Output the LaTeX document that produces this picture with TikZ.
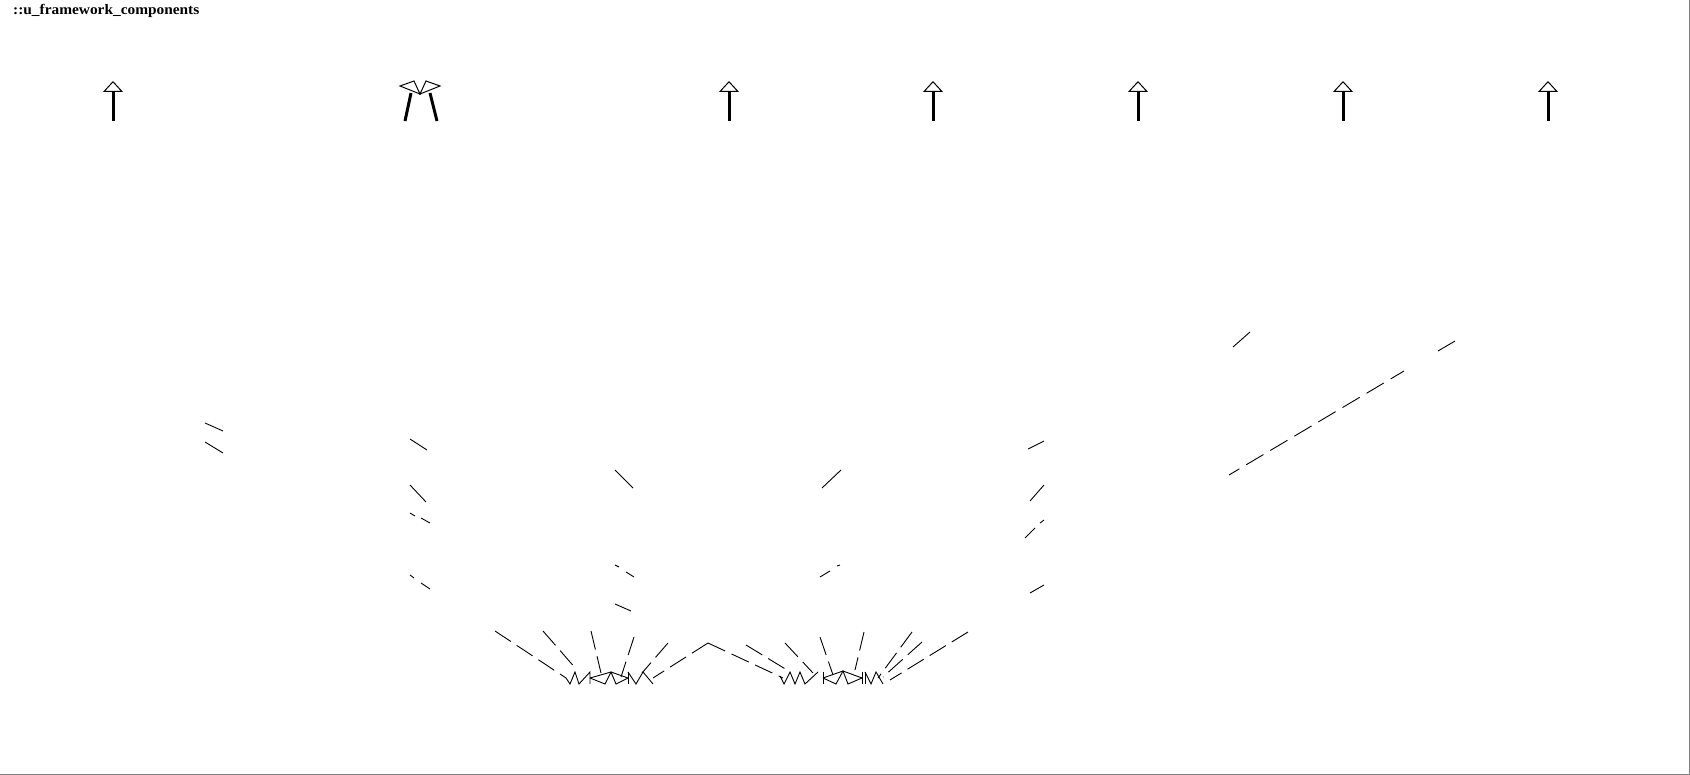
\documentclass[tikz,border=0pt]{standalone}
\usepackage{fontspec}
\setmainfont{Liberation Serif}
\newfontfamily\titlefont[FakeStretch=1.06]{Liberation Serif}
\usetikzlibrary{arrows.meta}
\begin{document}
\begin{tikzpicture}[x=1pt,y=-1pt,
  frag/.style={line width=0.9pt},
  dsh/.style={line width=0.9pt, dash pattern=on 19pt off 7pt},
  ldsh/.style={line width=0.9pt, dash pattern=on 20pt off 8pt},
  shaft/.style={line width=3pt, -{Triangle[open,length=11pt,width=20pt,line width=1pt,fill=white]}},
  head/.style={line width=1pt, fill=white, line join=miter},
  zig/.style={line width=0.9pt, line join=miter},
  title/.style={font=\titlefont\bfseries\fontsize{14.5}{16}\selectfont, anchor=base west, inner sep=0pt}]
\useasboundingbox (0,0) rectangle (1690,775);
\draw[gray, line width=1.2pt] (0,774.4) -- (1689.4,774.4) -- (1689.4,0);
\node[title] (title) at (13,14.5) {::u\_framework\_components};

% generalization arrows at the top
\foreach \n/\x in {1/113,2/729,3/933,4/1138,5/1343,6/1548}{
  \coordinate (g\n s) at (\x,121);
  \coordinate (g\n t) at (\x,81);
  \draw[shaft] (g\n s) -- (g\n t);
}
% converging pair
\coordinate (p0) at (420,94);
\draw[line width=3pt] (405,121) -- (411,93);
\draw[line width=3pt] (437,121) -- (430,93);
\draw[head] (400,86) -- (414,81) -- (p0) -- cycle;
\draw[head] (440,86) -- (426,81) -- (p0) -- cycle;

% left fragments
\draw[frag] (205,423) -- (223,431);
\draw[frag] (205,442) -- (223,453);
\draw[frag] (410,439) -- (427,450);
\draw[frag] (410,485) -- (426,502);
\draw[frag] (410,513) -- (415,516) (421,518) -- (430,523);
\draw[frag] (410,575) -- (414,578) (421,583) -- (430,589);

% middle fragments
\draw[frag] (615,470) -- (633,488);
\draw[frag] (822,488) -- (841,470);
\draw[frag] (615,565) -- (619,567) (626,572) -- (634,577);
\draw[frag] (615,604) -- (631,611);
\draw[frag] (820,577) -- (830,571) (837,566) -- (840,565);

% right fragments
\draw[frag] (1028,449) -- (1044,441);
\draw[frag] (1030,501) -- (1044,485);
\draw[frag] (1025,538) -- (1035,528) (1040,523) -- (1044,520);
\draw[frag] (1030,593) -- (1044,585);
\draw[frag] (1233,347) -- (1250,332);
\draw[frag] (1438,351) -- (1455,341);
\draw[ldsh, dash phase=8pt] (1229,475) -- (1404,371);

% cluster 1
\draw[dsh] (495,631) -- (566,678);
\draw[dsh] (543,631) -- (577,670);
\draw[dsh] (591,631) -- (601,673);
\draw[dsh] (634,637) -- (621,677);
\draw[dsh] (668,643) -- (642,673);
\draw[dsh] (708,643) -- (653,678);
\draw[zig] (566,678) -- (570,684) -- (575,672) -- (579,684) -- (590,672) -- (590,684);
\draw[zig] (590,678) -- (611,672) -- (628,678);
\draw[zig] (590,678) -- (605,684) -- (611,672) -- (616,684) -- (628,678);
\draw[zig] (628,672) -- (628,684);
\draw[zig] (628,672) -- (636,684) -- (643,672) -- (653,684);

% cluster 2
\draw[dsh] (708,643) -- (783,678);
\draw[dsh] (746,645) -- (787,670);
\draw[dsh] (785,643) -- (813,673);
\draw[dsh] (820,637) -- (833,675);
\draw[dsh] (864,632) -- (855,670);
\draw[dsh] (912,632) -- (878,678);
\draw[dsh] (922,642) -- (883,677);
\draw[dsh] (968,632) -- (890,680);
\draw[zig] (780,676) -- (784,684) -- (790,672) -- (795,684) -- (800,672) -- (805,684) -- (818,672);
\draw[zig] (823,672) -- (823,684);
\draw[zig] (823,678) -- (843,671) -- (862,678);
\draw[zig] (823,678) -- (836,684) -- (843,671) -- (848,684) -- (862,678);
\draw[zig] (862,672) -- (862,684);
\draw[zig] (865,672) -- (865,684);
\draw[zig] (865,672) -- (871,684) -- (876,672) -- (883,684);
\end{tikzpicture}
\end{document}
